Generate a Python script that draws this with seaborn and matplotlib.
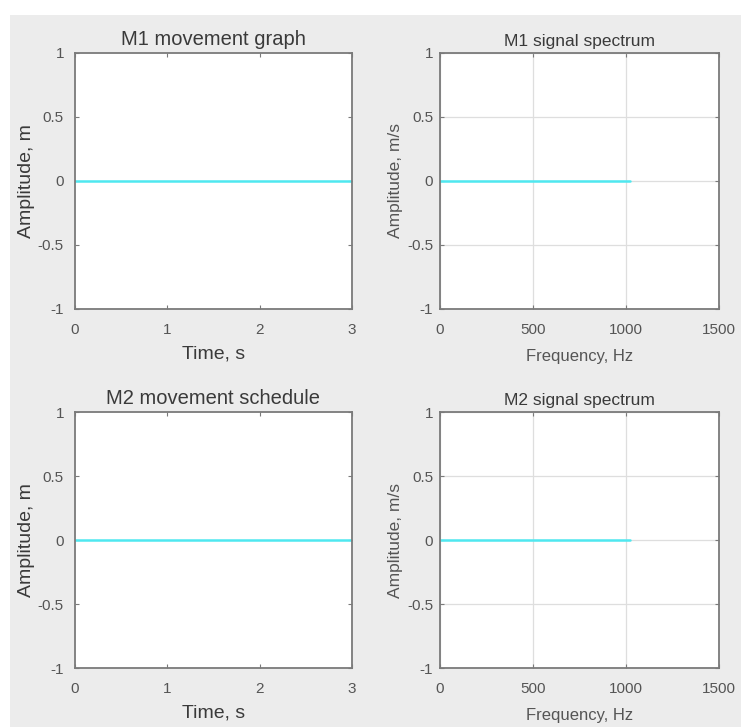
import numpy as np
import pandas as pd
import matplotlib.pyplot as plt
from matplotlib.patches import Rectangle
import seaborn as sns

# MATLAB-like look
sns.set_theme(style="ticks")
plt.rcParams['font.family'] = ['Liberation Sans', 'DejaVu Sans']
TEXT_GRAY = "#3a3a3a"
TICK_GRAY = "#555555"
EDGE_GRAY = "#7a7a7a"
LINE_CYAN = "#4fe8f0"
FIG_BG = "#ececec"

# data
time_s = [0, 3]
m1_move = [0, 0]
m2_move = [0, 0]
freq_hz = [0, 1020]
m1_spec = [0, 0]
m2_spec = [0, 0]

time_ticks = [0, 1, 2, 3]
freq_ticks = [0, 500, 1000, 1500]
amp_ticks = [-1, -0.5, 0, 0.5, 1]
amp_labels = ["-1", "-0.5", "0", "0.5", "1"]

panels = [
    dict(x=time_s, y=m1_move, title="M1 movement graph", xlabel="Time, s", ylabel="Amplitude, m",
         xlim=(0, 3), xticks=time_ticks, grid=False, small=False),
    dict(x=freq_hz, y=m1_spec, title="M1 signal spectrum", xlabel="Frequency, Hz", ylabel="Amplitude, m/s",
         xlim=(0, 1500), xticks=freq_ticks, grid=True, small=True),
    dict(x=time_s, y=m2_move, title="M2 movement schedule", xlabel="Time, s", ylabel="Amplitude, m",
         xlim=(0, 3), xticks=time_ticks, grid=False, small=False),
    dict(x=freq_hz, y=m2_spec, title="M2 signal spectrum", xlabel="Frequency, Hz", ylabel="Amplitude, m/s",
         xlim=(0, 1500), xticks=freq_ticks, grid=True, small=True),
]

W, H = 741, 727
fig = plt.figure(figsize=(W / 100, H / 100), dpi=100, facecolor="white")
# gray figure area (white margin top/left like the screenshot)
fig.patches.append(Rectangle((10 / W, 0), 1, 1 - 15 / H, transform=fig.transFigure,
                             facecolor=FIG_BG, edgecolor="none", zorder=-10))

# axes boxes in pixels: left, top, right, bottom
boxes = [(75, 53, 352, 309), (440, 53, 719, 309), (75, 412, 352, 668), (440, 412, 719, 668)]

for p, (l, t, r, b) in zip(panels, boxes):
    ax = fig.add_axes([l / W, 1 - b / H, (r - l) / W, (b - t) / H])
    ax.set_facecolor("white")
    df = pd.DataFrame({"x": p["x"], "y": p["y"]})
    sns.lineplot(data=df, x="x", y="y", ax=ax, color=LINE_CYAN, linewidth=1.8)
    ax.set_xlim(*p["xlim"])
    ax.set_ylim(-1, 1)
    ax.set_xticks(p["xticks"])
    ax.set_xticklabels([str(v) for v in p["xticks"]])
    ax.set_yticks(amp_ticks)
    ax.set_yticklabels(amp_labels)
    if p["grid"]:
        ax.grid(True, color="#dedede", linewidth=0.9)
    else:
        ax.grid(False)
    for s in ax.spines.values():
        s.set_visible(True)
        s.set_color(EDGE_GRAY)
        s.set_linewidth(1.3)
    ax.tick_params(direction="in", top=True, right=True, length=3, width=0.8, color=EDGE_GRAY,
                   labelcolor=TICK_GRAY, labelsize=11)
    ax.tick_params(axis="x", pad=10)
    ax.tick_params(axis="y", pad=5 if p["small"] else 8)
    if p["small"]:
        ax.set_title(p["title"], fontsize=12.5, color=TEXT_GRAY, pad=5)
        ax.set_xlabel(p["xlabel"], fontsize=12, color=TICK_GRAY, labelpad=9)
        ax.set_ylabel(p["ylabel"], fontsize=12.5, color=TICK_GRAY, labelpad=3)
    else:
        ax.set_title(p["title"], fontsize=14.5, color=TEXT_GRAY, pad=6)
        ax.set_xlabel(p["xlabel"], fontsize=14, color=TEXT_GRAY, labelpad=6)
        ax.set_ylabel(p["ylabel"], fontsize=14, color=TEXT_GRAY, labelpad=2)

plt.savefig("out.png", dpi=100, facecolor="white")
plt.close()
